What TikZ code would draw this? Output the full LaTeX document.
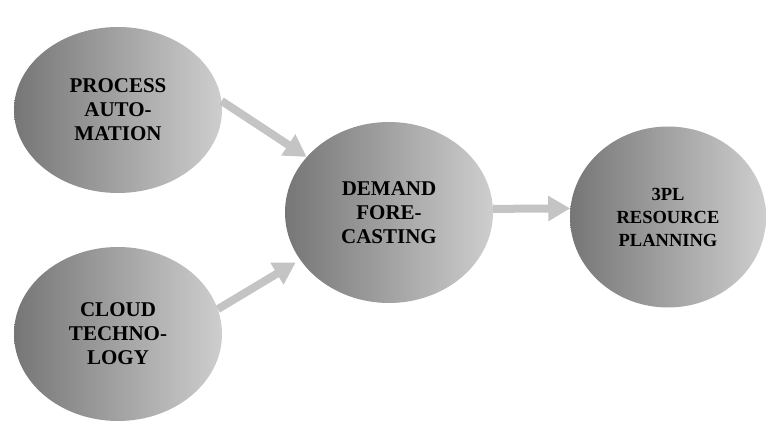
\documentclass[tikz,border=0pt]{standalone}
\usepackage{fontspec}
\setmainfont{Liberation Serif}[BoldFont={Liberation Serif Bold}]
\usetikzlibrary{arrows.meta,shapes.geometric}
\definecolor{blobdark}{RGB}{118,118,118}
\definecolor{bloblight}{RGB}{206,206,206}
\definecolor{flowgray}{RGB}{196,196,196}
\begin{document}
\begin{tikzpicture}[x=1pt,y=1pt,
  blob/.style={ellipse, inner sep=0pt, left color=blobdark, right color=bloblight,
    draw=none, align=center, font=\bfseries\fontsize{21}{24}\selectfont},
  flow/.style={draw=flowgray, line width=8pt,
    -{Triangle[width=24pt,length=22pt]}}]
\useasboundingbox (0,0) rectangle (766,423);
\node[blob, minimum width=208pt, minimum height=166pt] (pa) at (118,313) {PROCESS\\AUTO-\\MATION};
\node[blob, minimum width=208pt, minimum height=174pt] (ct) at (118,89) {CLOUD\\TECHNO-\\LOGY};
\node[blob, minimum width=208pt, minimum height=181pt] (df) at (389,210.5) {DEMAND\\FORE-\\CASTING};
\node[blob, minimum width=196pt, minimum height=181pt,
  font=\bfseries\fontsize{18.5}{23}\selectfont] (rp) at (668,206) {3PL\\RESOURCE\\PLANNING};
\draw[flow] (pa.5) -- (df.146);
\draw[flow, shorten >=5pt] (ct.14) -- (df.208);
\draw[flow] (df.2) -- (rp.175);
\end{tikzpicture}
\end{document}
